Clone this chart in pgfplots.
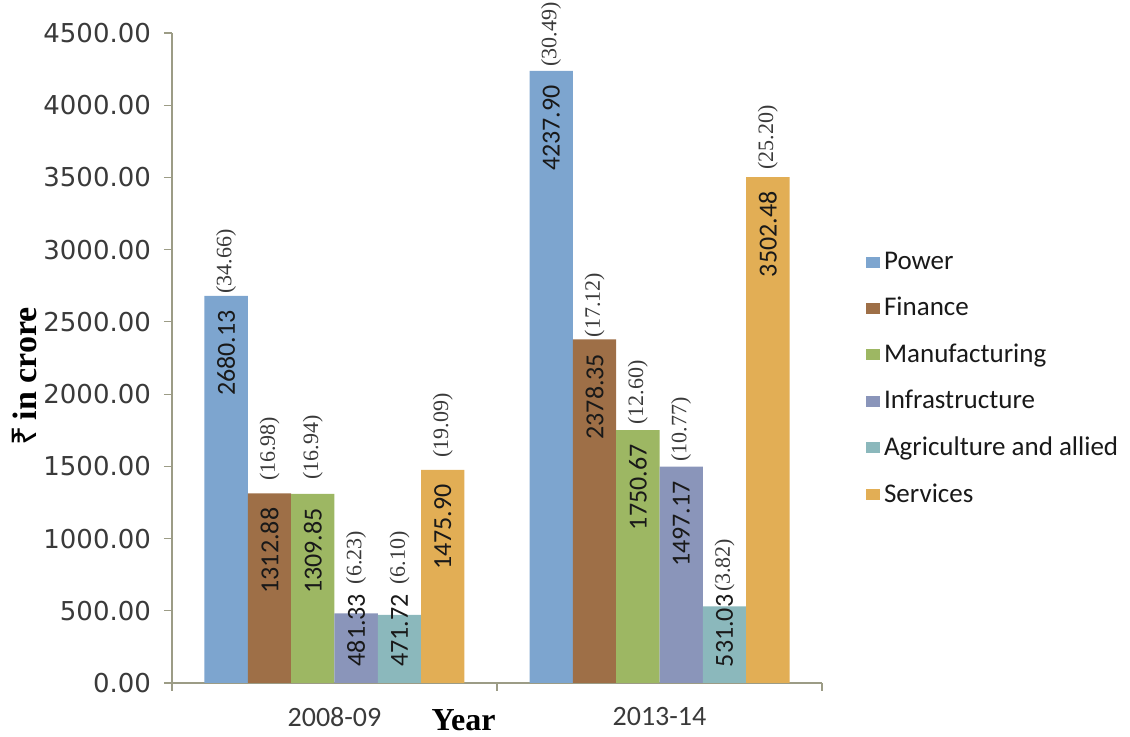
\documentclass[border=0pt]{standalone}
\usepackage{fontspec}
\setmainfont{Carlito}
\newfontfamily\tickfont{DejaVu Sans}
\newfontfamily\pctfamily{Liberation Serif}
\newfontfamily\rupeefont{Noto Sans}
\usepackage{pgfplots}
\usepackage{pgfplotstable}
\pgfplotsset{compat=1.18}

\definecolor{cPower}{HTML}{7DA5CF}
\definecolor{cFinance}{HTML}{9E6F47}
\definecolor{cManuf}{HTML}{9DB763}
\definecolor{cInfra}{HTML}{8A95BA}
\definecolor{cAgri}{HTML}{8BB8BC}
\definecolor{cServ}{HTML}{E2AE55}
\definecolor{axcol}{HTML}{9C9C86}
\definecolor{tcol}{HTML}{3A3A3A}

% x: bar centre, y: value, val: label, pct: share, voff/poff: label offsets (pt)
\pgfplotstableread{
x y val pct voff poff
0.16667 2680.13 2680.13 (34.66) -7 1
1.16667 4237.90 4237.90 (30.49) -7 2
}\power
\pgfplotstableread{
x y val pct voff poff
0.30000 1312.88 1312.88 (16.98) -7 6
1.30000 2378.35 2378.35 (17.12) -7 1
}\finance
\pgfplotstableread{
x y val pct voff poff
0.43333 1309.85 1309.85 (16.94) -7 7
1.43333 1750.67 1750.67 (12.60) -7 2.5
}\manuf
\pgfplotstableread{
x y val pct voff poff
0.56667 481.33 481.33 (6.23) 10 14.5
1.56667 1497.17 1497.17 (10.77) -7 2.5
}\infra
\pgfplotstableread{
x y val pct voff poff
0.70000 471.72 471.72 (6.10) 10.5 15
1.70000 531.03 531.03 (3.82) 6 7
}\agri
\pgfplotstableread{
x y val pct voff poff
0.83333 1475.90 1475.90 (19.09) -7 6
1.83333 3502.48 3502.48 (25.20) -7 3.5
}\serv

\pgfplotsset{
  vallabel/.style={forget plot, draw=none, fill=none,
    nodes near coords, point meta=explicit symbolic,
    visualization depends on={\thisrow{voff}\as\myvoff},
    every node near coord/.append style={yshift=\myvoff pt, rotate=90, anchor=east,
      inner sep=0pt, font=\fontsize{13}{13}\selectfont, text=black!90}},
  pctlabel/.style={forget plot, draw=none, fill=none,
    nodes near coords, point meta=explicit symbolic,
    visualization depends on={\thisrow{poff}\as\mypoff},
    every node near coord/.append style={yshift=\mypoff pt, rotate=90, anchor=west,
      inner sep=0pt, font=\pctfamily\fontsize{11}{11}\selectfont, text=tcol}},
}

\begin{document}
\begin{tikzpicture}
\useasboundingbox (-86pt,-27pt) rectangle (479pt,341.5pt);
\begin{axis}[
  at={(0,0)}, anchor=south west,
  scale only axis, width=325pt, height=325pt,
  xmin=0, xmax=2, ymin=0, ymax=4500,
  ybar, bar width=0.13333, bar shift=0pt,
  axis x line*=bottom, axis y line*=left,
  axis line style={draw=axcol, line width=0.6pt},
  tick style={draw=axcol, line width=0.6pt},
  tick align=outside, major tick length=4pt, minor tick length=4pt,
  xtick={0.5,1.5}, xticklabels={2008-09,2013-14},
  minor xtick={0,1,2},
  x tick style={draw=none},
  minor x tick style={draw=axcol, line width=0.6pt},
  ytick={0,500,...,4500},
  /pgf/number format/assume math mode=true,
  yticklabel style={font=\tickfont\fontsize{13}{13}\selectfont, text=tcol, xshift=-3pt,
    /pgf/number format/.cd, fixed, fixed zerofill, precision=2, 1000 sep={}},
  xticklabel style={font=\fontsize{14}{14}\selectfont, text=tcol, yshift=-7pt,
    inner sep=1pt},
  xlabel={\textbf{\pctfamily Year}},
  xlabel style={at={(axis description cs:0.4485,-0.057)}, anchor=center,
    inner sep=1pt, font=\fontsize{16}{16}\selectfont},
  ylabel={{\rupeefont\bfseries ₹}\,\textbf{\pctfamily in crore}},
  ylabel style={at={(axis description cs:-0.2262,0.472)}, anchor=center,
    font=\fontsize{17}{17}\selectfont},
  legend image code/.code={\fill[#1] (0pt,-2.8pt) rectangle (7pt,2.8pt);},
  legend style={at={(axis description cs:1.058,0.676)}, anchor=north west,
    draw=none, fill=none, font=\fontsize{13.5}{13.5}\selectfont, text=black!90,
    row sep=8.5pt, nodes={inner xsep=2pt}},
  legend cell align=left,
]
\addplot[fill=cPower, draw=none] table[x=x,y=y] {\power};
\addlegendentry{Power}
\addplot[fill=cFinance, draw=none] table[x=x,y=y] {\finance};
\addlegendentry{Finance}
\addplot[fill=cManuf, draw=none] table[x=x,y=y] {\manuf};
\addlegendentry{Manufacturing}
\addplot[fill=cInfra, draw=none] table[x=x,y=y] {\infra};
\addlegendentry{Infrastructure}
\addplot[fill=cAgri, draw=none] table[x=x,y=y] {\agri};
\addlegendentry{Agriculture and allied}
\addplot[fill=cServ, draw=none] table[x=x,y=y] {\serv};
\addlegendentry{Services}

\addplot[vallabel] table[x=x,y=y,meta=val] {\power};
\addplot[vallabel] table[x=x,y=y,meta=val] {\finance};
\addplot[vallabel] table[x=x,y=y,meta=val] {\manuf};
\addplot[vallabel] table[x=x,y=y,meta=val] {\infra};
\addplot[vallabel] table[x=x,y=y,meta=val] {\agri};
\addplot[vallabel] table[x=x,y=y,meta=val] {\serv};

\addplot[pctlabel] table[x=x,y=y,meta=pct] {\power};
\addplot[pctlabel] table[x=x,y=y,meta=pct] {\finance};
\addplot[pctlabel] table[x=x,y=y,meta=pct] {\manuf};
\addplot[pctlabel] table[x=x,y=y,meta=pct] {\infra};
\addplot[pctlabel] table[x=x,y=y,meta=pct] {\agri};
\addplot[pctlabel] table[x=x,y=y,meta=pct] {\serv};
\end{axis}
\end{tikzpicture}
\end{document}
